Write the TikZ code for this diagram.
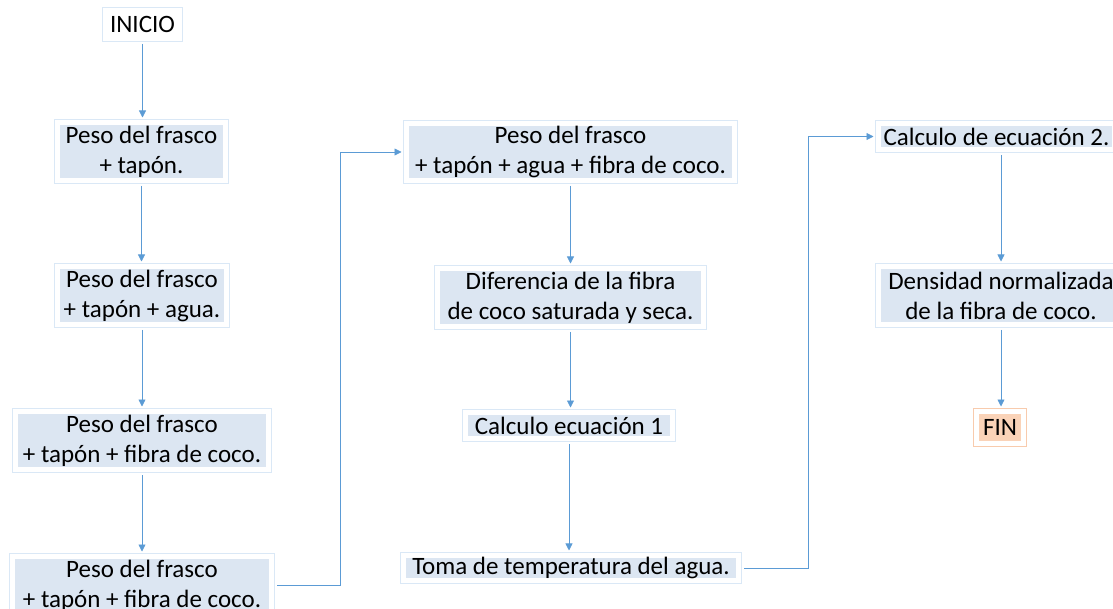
\documentclass[tikz,border=0pt]{standalone}
\usepackage{fontspec}
\setmainfont{Carlito}
\usetikzlibrary{arrows.meta}
\definecolor{arrowc}{HTML}{5B9BD5}
\definecolor{boxline}{HTML}{DAE8F6}
\definecolor{boxfill}{HTML}{DCE6F2}
\definecolor{finline}{HTML}{F8CBAD}
\definecolor{finfill}{HTML}{FAD3B8}
\tikzset{
  pbox/.style={draw=boxline, line width=0.7pt, double=white, double distance=5pt,
    fill=boxfill, outer sep=3.2pt, inner sep=2pt, align=center,
    font=\fontsize{25}{30}\selectfont, text=black},
  startbox/.style={pbox, fill=white},
  endbox/.style={pbox, draw=finline, fill=finfill},
  flow/.style={draw=arrowc, line width=0.8pt, -{Triangle[width=7pt,length=7pt]},
    shorten >=1.5pt, shorten <=2pt},
}
\begin{document}
\begin{tikzpicture}[x=1pt,y=-1pt]
\clip (0,0) rectangle (1113,609);
\fill[white] (0,0) rectangle (1113,609);

\node[startbox, minimum width=74.6pt, minimum height=28.6pt] (ini) at (142.5,24.5) {INICIO};
\node[pbox, minimum width=168.6pt, minimum height=58.6pt] (b1) at (141.5,151.5) {Peso del frasco\\+ tapón.};
\node[pbox, minimum width=169.6pt, minimum height=58.6pt] (b2) at (142,295.5) {Peso del frasco\\+ tapón + agua.};
\node[pbox, minimum width=253.6pt, minimum height=58.6pt] (b3) at (142,440.5) {Peso del frasco\\+ tapón + fibra de coco.};
\node[pbox, minimum width=259.6pt, minimum height=58.6pt] (b4) at (142,585.5) {Peso del frasco\\+ tapón + fibra de coco.};

\node[pbox, minimum width=328.6pt, minimum height=57.6pt] (b5) at (570.5,152) {Peso del frasco\\+ tapón + agua + fibra de coco.};
\node[pbox, minimum width=266.6pt, minimum height=58.6pt] (b6) at (570.5,297.5) {Diferencia de la fibra\\de coco saturada y seca.};
\node[pbox, minimum width=207.6pt, minimum height=26.6pt] (b7) at (569,425.5) {Calculo ecuación 1};
\node[pbox, minimum width=335.6pt, minimum height=25.6pt] (b8) at (571,568) {Toma de temperatura del agua.};

\node[pbox, minimum width=236.6pt, minimum height=26.6pt] (b9) at (996.5,136.5) {Calculo de ecuación 2.};
\node[pbox, minimum width=245.6pt, minimum height=58.6pt] (b10) at (1001,295.5) {Densidad normalizada\\de la fibra de coco.};
\node[endbox, minimum width=47.6pt, minimum height=32.6pt] (fin) at (1000,427.5) {FIN};

\coordinate (j1) at (340,0);
\coordinate (j2) at (808,0);

\draw[flow] (ini.south) -- (ini.south |- b1.north);
\draw[flow] (b1.south) -- (b1.south |- b2.north);
\draw[flow] (b2.south) -- (b2.south |- b3.north);
\draw[flow] (b3.south) -- (b3.south |- b4.north);
\draw[flow] (b4.east) -- (b4.east -| j1) |- (b5.west);
\draw[flow] (b5.south) -- (b5.south |- b6.north);
\draw[flow] (b6.south) -- (b6.south |- b7.north);
\draw[flow] (b7.south) -- (b7.south |- b8.north);
\draw[flow] (b8.east) -- (b8.east -| j2) |- (b9.west);
\draw[flow] (b10.north |- b9.south) -- (b10.north);
\draw[flow] (b10.south) -- (b10.south |- fin.north);
\end{tikzpicture}
\end{document}
